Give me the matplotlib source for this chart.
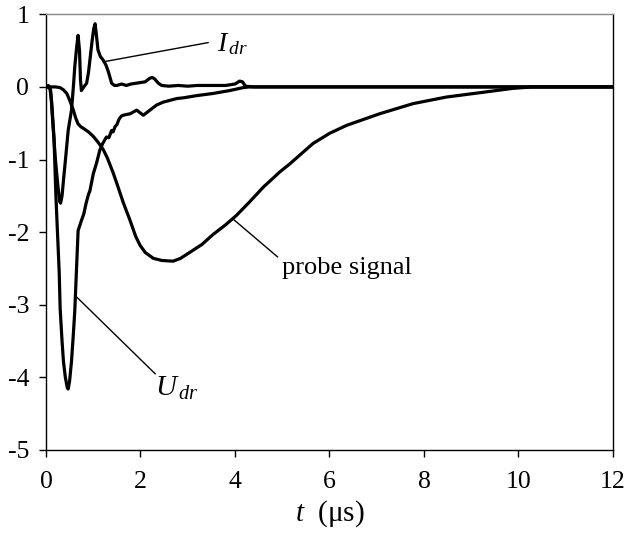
import numpy as np
import matplotlib
matplotlib.use('Agg')
import matplotlib.pyplot as plt

plt.rcParams['font.family'] = ['Liberation Serif', 'DejaVu Serif']
plt.rcParams['mathtext.fontset'] = 'custom'
plt.rcParams['mathtext.rm'] = 'Liberation Serif'
plt.rcParams['mathtext.it'] = 'Liberation Serif:italic'
plt.rcParams['axes.unicode_minus'] = False

# drive current I_dr
t_idr = [0.0, 0.05, 0.1, 0.15, 0.2, 0.25, 0.29, 0.31, 0.34, 0.37, 0.42, 0.47, 0.54,
         0.58, 0.61, 0.65, 0.68, 0.71, 0.73, 0.75, 0.8, 0.86, 0.9, 0.93, 0.97, 1.01,
         1.04, 1.07, 1.1, 1.15, 1.21, 1.27, 1.32, 1.36, 1.39, 1.45, 1.5, 1.6, 1.7,
         1.8, 1.9, 2.0, 2.1, 2.2, 2.25, 2.3, 2.38, 2.45, 2.6, 2.8, 3.0, 3.2, 3.5,
         3.8, 4.0, 4.1, 4.16, 4.22, 4.4, 5.0, 12.0]
v_idr = [0.0, 0.02, -0.05, -0.55, -1.0, -1.35, -1.58, -1.6, -1.5, -1.29, -0.95, -0.6, -0.32,
         0.0, 0.28, 0.55, 0.71, 0.5, 0.1, -0.05, 0.0, 0.05, 0.2, 0.37, 0.6, 0.8,
         0.87, 0.7, 0.51, 0.42, 0.37, 0.3, 0.21, 0.12, 0.05, 0.02, 0.02, 0.04, 0.02,
         0.04, 0.05, 0.06, 0.07, 0.12, 0.13, 0.11, 0.05, 0.02, 0.01, 0.02, 0.01, 0.02, 0.02,
         0.02, 0.04, 0.08, 0.07, 0.01, 0.0, 0.0, 0.0]

# drive voltage U_dr
t_udr = [0.0, 0.08, 0.12, 0.17, 0.21, 0.25, 0.28, 0.3, 0.34, 0.37, 0.41, 0.45, 0.47,
         0.5, 0.54, 0.58, 0.61, 0.65, 0.68, 0.72, 0.75, 0.8, 0.85, 0.9, 0.93, 0.97,
         1.0, 1.07, 1.14, 1.2, 1.28, 1.33, 1.39, 1.42, 1.46, 1.5, 1.55, 1.6, 1.64,
         1.7, 1.78, 1.92, 2.06, 2.2, 2.34, 2.48, 2.77, 2.91, 3.19, 3.54, 3.89, 4.17,
         4.3, 5.0, 12.0]
v_udr = [0.0, 0.0, -0.2, -0.7, -1.5, -2.1, -2.55, -3.05, -3.5, -3.78, -4.0, -4.14, -4.16,
         -4.05, -3.78, -3.4, -3.08, -2.45, -1.98, -1.9, -1.84, -1.75, -1.6, -1.48, -1.43, -1.3,
         -1.2, -1.05, -0.87, -0.78, -0.69, -0.7, -0.6, -0.62, -0.55, -0.52, -0.44, -0.4, -0.39,
         -0.38, -0.37, -0.32, -0.39, -0.32, -0.25, -0.21, -0.16, -0.15, -0.12, -0.09, -0.05, -0.01,
         0.0, 0.0, 0.0]

# probe signal
t_probe = [0.0, 0.2, 0.3, 0.37, 0.44, 0.5, 0.58, 0.63, 0.68, 0.74, 0.79, 0.9, 1.0,
           1.1, 1.21, 1.3, 1.42, 1.5, 1.64, 1.78, 1.9, 1.99, 2.1, 2.27, 2.45, 2.69,
           2.85, 3.04, 3.3, 3.54, 3.8, 4.03, 4.3, 4.6, 4.95, 5.16, 5.65, 6.0, 6.36,
           7.06, 7.77, 8.47, 9.18, 9.88, 10.3, 12.0]
v_probe = [0.0, 0.0, -0.01, -0.04, -0.09, -0.18, -0.32, -0.43, -0.51, -0.55, -0.57, -0.62, -0.68,
           -0.76, -0.86, -0.98, -1.18, -1.33, -1.6, -1.84, -2.06, -2.18, -2.28, -2.36, -2.39, -2.4,
           -2.36, -2.28, -2.17, -2.03, -1.9, -1.77, -1.59, -1.38, -1.17, -1.06, -0.78, -0.64, -0.53,
           -0.37, -0.23, -0.14, -0.08, -0.02, 0.0, 0.0]

x_ticks = [0, 2, 4, 6, 8, 10, 12]
y_ticks = [1, 0, -1, -2, -3, -4, -5]

fig = plt.figure(figsize=(6.28, 5.52), dpi=100)
ax = fig.add_axes([0.0732, 0.1848, 0.9029, 0.7893])

ax.plot(t_probe, v_probe, color='black', lw=2.3, solid_joinstyle='round')
ax.plot(t_udr, v_udr, color='black', lw=2.3, solid_joinstyle='round')
ax.plot(t_idr, v_idr, color='black', lw=2.3, solid_joinstyle='round')

# leader lines and labels
ax.plot([1.21, 3.43], [0.345, 0.61], color='black', lw=1.0)
ax.text(3.63, 0.5, r'$I_{\,dr}$', fontsize=20, ha='left', va='baseline')
ax.plot([0.66, 2.31], [-2.9, -3.95], color='black', lw=1.0)
ax.text(2.3, -4.25, r'$U_{\,dr}$', fontsize=21, ha='left', va='baseline')
ax.plot([3.96, 4.9], [-1.82, -2.34], color='black', lw=1.0)
ax.text(4.99, -2.58, 'probe signal', fontsize=19, ha='left', va='baseline')

ax.set_xlim(0, 12)
ax.set_ylim(-5, 1)
ax.set_xticks(x_ticks)
ax.set_yticks(y_ticks)
ax.tick_params(axis='both', labelsize=18.5, width=1, length=5, direction='out', color='black')
ax.tick_params(axis='x', pad=10)
ax.tick_params(axis='y', pad=7)
for s in ax.spines.values():
    s.set_linewidth(1.0)
    s.set_color('black')
ax.spines['top'].set_color('#888888')

ax.set_xlabel(r'$t$  (μs)', fontsize=21, labelpad=4)

plt.savefig('out.png', dpi=100)
